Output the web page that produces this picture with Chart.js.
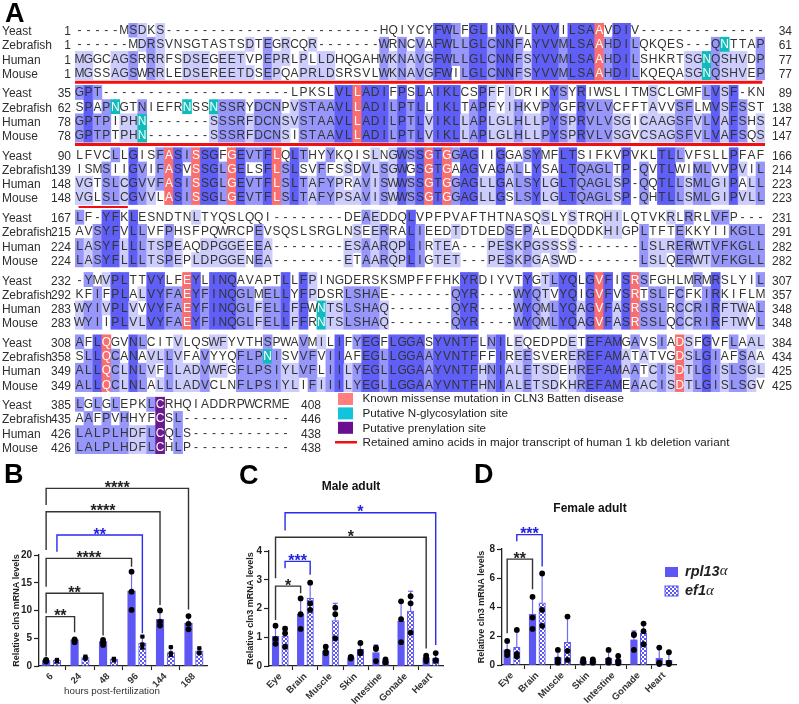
<!DOCTYPE html>
<html>
<head>
<meta charset="utf-8">
<script src="https://cdn.jsdelivr.net/npm/chart.js@4"></script>
<style>
  html, body { margin: 0; padding: 0; background: #fff; }
  body { width: 799px; height: 704px; position: relative; overflow: hidden; font-family: "Liberation Sans", Arial, sans-serif; }
  canvas { position: absolute; }
  .panel { position: absolute; font-weight: bold; font-size: 27px; line-height: 27px; color: #000; }
</style>
</head>
<body>
<canvas id="align" width="799" height="470" style="left:0px;top:0px"></canvas>
<canvas id="chartB" width="220" height="234" style="left:0px;top:470px"></canvas>
<canvas id="chartC" width="235" height="234" style="left:215px;top:470px"></canvas>
<canvas id="chartD" width="349" height="234" style="left:450px;top:470px"></canvas>
<div class="panel" style="left:5px;top:0px">A</div>
<div class="panel" style="left:4px;top:461px">B</div>
<div class="panel" style="left:239px;top:462px">C</div>
<div class="panel" style="left:474px;top:461px">D</div>
<script>
// panel A: the alignment, one string per species per block
const species = ['Yeast', 'Zebrafish', 'Human', 'Mouse'];
const seqBlock1 = [
  '-----MSDKS------------------------HQIYCYFWLFGLINNVLYVVILSAAVDIV--------------',
  '------MDRSVNSGTASTSDTEGRCQR-------WRNCVAFWLLGLCNNFAYVVMLSAAHDILQKQES---QNTTAP',
  'MGGCAGSRRRFSDSEGEETVPEPRLPLLDHQGAHWKNAVGFWLLGLCNNFSYVVMLSAAHDILSHKRTSGNQSHVDP',
  'MGSSAGSWRRLEDSEREETDSEPQAPRLDSRSVLWKNAVGFWILGLCNNFSYVVMLSAAHDILKQEQASGNQSHVEP'
];
const seqBlock2 = [
  'GPT---------------------LPKSLVLLADIFPSLAIKLCSPFFIDRIKYSYRIWSLITMSCLGMFLVSF-KN',
  'SPAPNGTNIEFRNSSNSSRYDCNPVSTAAVLLADILPTLLIKLTAPFYIHKVPYGFRVLVCFFTAVVSFLMVSFSST',
  'GPTPIPHN-------SSSRFDCNSVSTAAVLLADILPTLVIKLLAPLGLHLLPYSPRVLVSGICAAGSFVLVAFSHS',
  'GPTPTPHN-------SSSRFDCNSISTAAVLLADILPTLVIKLLAPLGLHLLPYSPRVLVSGVCSAGSFVLVAFSQS'
];
const seqBlock3 = [
  'LFVCLLGISFASISSGFGEVTFLQLTHYYKQISLNGWSSGTGGAGIIGGASYMFLTSIFKVPVKLTLLVFSLLPFAF',
  'ISMSIIGVIFASVSSGLGELSFLSLSVFFSSDVLSGWGSGTGAAGVAGALLYSALTQAGLTP-QVTLWIMLVVPVIL',
  'VGTSLCGVVFASISSGLGEVTFLSLTAFYPRAVISWWSSGTGGAGLLGALSYLGLTQAGLSP-QQTLLSMLGIPALL',
  'VGLSLCGVVLASISSGLGEVTFLSLTAFYPSAVISWWSSGTGGAGLLGSLSYLGLTQAGLSP-QHTLLSMLGIPVLL'
];
const seqBlock4 = [
  'LF-YFKLESNDTNLTYQSLQQI--------DEAEDDQLVPFPVAFTHTNASQSLYSTRQHILQTVKRLRRLVFP---',
  'AVSYFVLLVFPHSFPQWRCPEVSQSLSRGLNSEERRALIEEDTDTDEDSEPALEDQDDKHIGPLTFTEKKYIIKGLL',
  'LASYFLLLTSPEAQDPGGEEEA--------ESAARQPLIRTEA---PESKPGSSSS-------LSLRERWTVFKGLL',
  'LASYFLLLTSPEPLDPGGENEA--------ETAARQPLIGTET---PESKPGASWD-------LSLQERWTVFKGLL'
];
const seqBlock5 = [
  '-YMVPLTTVYLFEYLINQAVAPTLLFPINGDERSKSMPFFFHKYRDIYVTYGTLYQLGVFISRSFGHLMRMRSLYIL',
  'KFIFPLALVYFAEYFINQGLMELLYFPDSRLSHAE-------QYR----WYQTVYQIGVFVSRTSLFCFKIRKIFLM',
  'WYIVPLVVVYFAEYFINQGLFELLFFWNTSLSHAQ-------QYR----WYQMLYQAGVFASRSSLRCCRIRFTWAL',
  'WYIIPLVLVYFAEYFINQGLFELLFFRNTSLSHAQ-------QYR----WYQMLYQAGVFASRSSLQCCRIRFTWVL'
];
const seqBlock6 = [
  'AFLQGVNLCITVLQSWFYVTHSPWAVMILIFYEGFLGGASYVNTFLNILEQEDPDETEFAMGAVSIADSFGVFLAAL',
  'SLLQCANAVLLVFAVYYQFLPNISVVFVIIAFEGLLGGAAYVNTFFFIREESVEREREFAMATATVGDSLGIAFSAA',
  'ALLQCLNLVFLLADVWFGFLPSIYLVFLIILYEGLLGGAAYVNTFHNIALETSDEHREFAMAATCISDTLGISLSGL',
  'ALLQCLNLALLLADVCLNFLPSIYLIFIIILYEGLLGGAAYVNTFHNIALETSDKHREFAMEAACISDTLGISLSGV'
];
const seqBlock7 = [
  'LGLGLEPKLCRHQIADDRPWCRME',
  'AAFPVHHYFCSL------------',
  'LALPLHDFLCQLS-----------',
  'LALPLHDFLCHLP-----------'
];
const seqBlocks = [seqBlock1, seqBlock2, seqBlock3, seqBlock4, seqBlock5, seqBlock6, seqBlock7];
const startNums = [[1, 1, 1, 1], [35, 62, 78, 78], [90, 139, 148, 148], [167, 215, 224, 224], [232, 292, 283, 283], [308, 358, 349, 349], [385, 435, 426, 426]];
const endNums = [[34, 61, 77, 77], [89, 138, 147, 147], [166, 214, 223, 223], [231, 291, 282, 282], [307, 357, 348, 348], [384, 434, 425, 425], [408, 446, 438, 438]];
// zero based columns of the marked residues in each block
const missenseCols = [[58], [31], [10, 13, 17, 22, 39, 41], [], [12, 58, 62], [3, 67], []];
const prenylCols = [[], [], [], [], [], [], [9]];
// block, row, column
const glycoCells = [[0, 1, 72], [0, 2, 70], [0, 3, 70], [1, 1, 4], [1, 1, 12], [1, 1, 15], [1, 2, 7], [1, 3, 7], [4, 2, 27], [4, 3, 27], [5, 1, 21]];
// block, from column, to column
const retainedSpans = [[0, 0, 76.7], [1, 0, 77], [2, 0.4, 5.9]];
const legendTexts = ['Known missense mutation in CLN3 Batten disease', 'Putative N-glycosylation site', 'Putative prenylation site', 'Retained amino acids in major transcript of human 1 kb deletion variant'];

// panel B values
const hpfLabels = ['6', '24', '48', '96', '144', '168'];
const bRpl = [1, 4.7, 4.4, 13.5, 8.4, 7.7];
const bEf = [1, 1.5, 1.2, 4.1, 2.4, 2.7];
const bRplTop = [1.1, 4.9, 4.8, 17, 10, 9.2];
const bEfTop = [1.1, 1.7, 1.3, 5.3, 3.4, 3.2];
const bRplPts = [[0.8, 1, 1.1], [4.3, 4.6, 4.8], [3.8, 4.3, 4.7], [10.1, 13.4, 17], [7.3, 8, 10], [6.6, 7.6, 9]];
const bEfPts = [[0.8, 1, 1.1], [1.3, 1.5, 1.7], [1, 1.2, 1.3], [3.3, 3.9, 5.3], [2, 2.3, 3.4], [2.3, 2.4, 3.2]];
// from x, to x, level, left end, right end, stars, colour key
const bBrackets = [
  [-0.19, 0.81, 8.9, 1.7, 6.1, '**', 'k'],
  [-0.19, 1.81, 13.1, 9.5, 5.5, '**', 'k'],
  [-0.19, 2.81, 19.4, 14.3, 17.9, '****', 'k'],
  [0.19, 3.19, 23.6, 20.6, 5.9, '**', 'b'],
  [-0.19, 3.81, 27.8, 20.9, 11, '****', 'k'],
  [-0.19, 4.81, 32, 29, 10.2, '****', 'k']
];

// panel C values
const tissueLabels = ['Eye', 'Brain', 'Muscle', 'Skin', 'Intestine', 'Gonade', 'Heart'];
const cRpl = [1.03, 1.8, 0.52, 0.29, 0.46, 1.56, 0.28];
const cEf = [1.04, 2.35, 1.58, 0.58, 0.17, 1.91, 0.27];
const cRplTop = [1.4, 2.35, 0.67, 0.35, 0.73, 2.25, 0.38];
const cEfTop = [1.37, 2.9, 2.18, 0.8, 0.25, 2.6, 0.45];
const cRplPts = [[1.4, 0.94, 0.77], [2.35, 1.8, 1.29], [0.67, 0.5, 0.44], [0.32, 0.29, 0.26], [0.64, 0.59, 0.17], [2.25, 1.63, 0.83], [0.36, 0.27, 0.17]];
const cEfPts = [[1.3, 1.14, 0.67], [2.9, 2.18, 1.95], [2.03, 1.8, 0.96], [0.8, 0.5, 0.44], [0.23, 0.18, 0.12], [2.43, 2.18, 1.16], [0.45, 0.2, 0.18]];
const cBrackets = [
  [-0.19, 0.81, 2.78, 1.6, 2.53, '*', 'k'],
  [0.19, 1.19, 3.64, 3.4, 3.17, '***', 'b'],
  [-0.19, 5.81, 4.48, 3.05, 0.61, '*', 'k'],
  [0.19, 6.19, 5.33, 4.71, 0.73, '*', 'b']
];

// panel D values
const dRpl = [1.04, 3.5, 0.53, 0.28, 0.46, 1.73, 0.46];
const dEf = [1.22, 4.29, 1.57, 0.27, 0.35, 2.21, 0.33];
const dRplTop = [1.66, 4.7, 1.04, 0.41, 1.04, 2.35, 1.2];
const dEfTop = [2.42, 6.31, 3.34, 0.39, 0.62, 2.86, 0.88];
const dRplPts = [[1.66, 0.92, 0.69], [4.7, 3.27, 2.49], [1.04, 0.39, 0.16], [0.41, 0.28, 0.16], [1.04, 0.35, 0.16], [2.12, 2.07, 1.04], [1.2, 0.16, 0.07]];
const dEfPts = [[2.42, 0.76, 0.58], [6.31, 3.8, 2.7], [3.34, 0.97, 0.35], [0.39, 0.25, 0.16], [0.62, 0.28, 0.12], [2.86, 2.33, 1.43], [0.88, 0.16, 0.07]];
const dBrackets = [
  [-0.19, 0.81, 7.3, 2.19, 5.23, '**', 'k'],
  [0.19, 1.19, 8.99, 8.53, 6.8, '***', 'b']
];

const FONT = '"Liberation Sans", Arial, sans-serif';
const BLUE = '#5d58f4';
const ERR_BLUE = '#6f6bf6';
const BRACKET = { k: '#333333', b: '#2a2af0' };
const STAR = { k: '#222222', b: '#2222e0' };

function cellColor(block, row, col) {
  const rows = seqBlocks[block];
  const ch = rows[row][col];
  if (ch === '-' || ch === undefined) return null;
  if (missenseCols[block].includes(col)) return '#fb6e6e';
  if (prenylCols[block].includes(col)) return '#6a1a8c';
  if (glycoCells.some(c => c[0] === block && c[1] === row && c[2] === col)) return '#0fbcbc';
  // percentage identity shading, the same for all four rows of a column
  const counts = {};
  rows.forEach(r => { if (r[col] !== '-' && r[col] !== undefined) counts[r[col]] = (counts[r[col]] || 0) + 1; });
  const top = Math.max(...Object.values(counts));
  if (counts[ch] !== top) return null;
  if (top === 4) return '#5f5ff8';
  if (top === 3) return '#9797fb';
  if (top === 2) return '#cdcdfd';
  return null;
}

const columnCount = 77;
const blockStep = 4.39;
const alignRows = 6 * blockStep + 4;
const columnLabels = Array.from({ length: columnCount }, (_, i) => String(i + 1));

const alignDatasets = [];
seqBlocks.forEach((rows, b) => {
  rows.forEach((seq, r) => {
    const top = b * blockStep + r;
    alignDatasets.push({
      label: species[r] + ' ' + startNums[b][r],
      data: columnLabels.map((_, c) => cellColor(b, r, c) ? [top, top + 1] : null),
      backgroundColor: columnLabels.map((_, c) => cellColor(b, r, c) || 'transparent'),
      barPercentage: 1,
      categoryPercentage: 1,
      grouped: false
    });
  });
});

const alignLetters = {
  id: 'alignLetters',
  afterDatasetsDraw(chart) {
    const ctx = chart.ctx, x = chart.scales.x, y = chart.scales.y;
    ctx.save();
    ctx.textBaseline = 'middle';
    seqBlocks.forEach((rows, b) => {
      rows.forEach((seq, r) => {
        const py = y.getPixelForValue(b * blockStep + r + 0.5) + 0.7;
        ctx.font = '12px ' + FONT;
        ctx.fillStyle = '#2e2e2e';
        ctx.textAlign = 'left';
        ctx.fillText(species[r], 2, py + 1);
        ctx.textAlign = 'right';
        ctx.fillText(startNums[b][r], 71, py + 1);
        const endX = b === 6 ? 321 : 792;
        ctx.fillText(endNums[b][r], endX, py + 1);
        ctx.textAlign = 'center';
        for (let c = 0; c < seq.length; c++) {
          const col = cellColor(b, r, c);
          const marked = col && col[1] !== '5' && col[1] !== '9' && col[1] !== 'c';
          ctx.fillStyle = marked ? '#fff' : '#333';
          ctx.fillText(seq[c], x.getPixelForValue(c), py);
        }
      });
    });
    // red lines for the retained amino acids
    ctx.strokeStyle = '#f01010';
    const colW = x.getPixelForValue(1) - x.getPixelForValue(0);
    retainedSpans.forEach((s, i) => {
      const py = y.getPixelForValue(s[0] * blockStep + 4) + 2.4;
      ctx.lineWidth = i === 2 ? 2 : 3;
      ctx.beginPath();
      ctx.moveTo(x.left + s[1] * colW, py);
      ctx.lineTo(x.left + s[2] * colW, py);
      ctx.stroke();
    });
    // legend
    const swatch = ['#ff7f7f', '#12c3dc', '#6a0f90'];
    swatch.forEach((c, i) => {
      ctx.fillStyle = c;
      ctx.fillRect(338, 393 + i * 14.4, 15, 12);
    });
    ctx.fillStyle = '#f01010';
    ctx.fillRect(335, 441, 22, 2.5);
    ctx.fillStyle = '#222';
    ctx.textAlign = 'left';
    ctx.font = '11.65px ' + FONT;
    [399, 414, 429, 443].forEach((py, i) => ctx.fillText(legendTexts[i], 362.5, py));
    ctx.restore();
  }
};

new Chart(document.getElementById('align'), {
  type: 'bar',
  data: { labels: columnLabels, datasets: alignDatasets },
  options: {
    responsive: false,
    animation: false,
    layout: { padding: { left: 75, right: 34, top: 23, bottom: 16 } },
    plugins: { legend: { display: false }, tooltip: { enabled: false } },
    scales: {
      x: { display: false },
      y: { display: false, reverse: true, min: 0, max: alignRows }
    }
  },
  plugins: [alignLetters]
});

// checker fill for the ef1a bars
function checkerFill() {
  const tile = document.createElement('canvas');
  tile.width = 4;
  tile.height = 4;
  const t = tile.getContext('2d');
  t.fillStyle = BLUE;
  t.fillRect(0, 0, 4, 4);
  t.fillStyle = '#fff';
  t.fillRect(0, 0, 2, 2);
  t.fillRect(2, 2, 2, 2);
  return t.createPattern(tile, 'repeat');
}

function errorLine(values, tops, off) {
  const out = [];
  values.forEach((v, g) => {
    out.push({ x: g + off, y: v }, { x: g + off, y: tops[g], cap: true }, { x: g + off, y: null });
  });
  return out;
}

function pointCloud(pts, off) {
  const out = [];
  pts.forEach((p, g) => p.forEach(v => out.push({ x: g + off, y: v })));
  return out;
}

function makePanel(cfg) {
  const off = 0.19;
  const extras = {
    id: 'extras' + cfg.id,
    afterDatasetsDraw(chart) {
      const ctx = chart.ctx, x = chart.scales.x, y = chart.scales.y;
      ctx.save();
      cfg.brackets.forEach(b => {
        const x0 = x.getPixelForValue(b[0]), x1 = x.getPixelForValue(b[1]);
        const lv = y.getPixelForValue(b[2]);
        ctx.strokeStyle = BRACKET[b[6]];
        ctx.lineWidth = 1.4;
        ctx.beginPath();
        ctx.moveTo(x0, y.getPixelForValue(b[3]));
        ctx.lineTo(x0, lv);
        ctx.lineTo(x1, lv);
        ctx.lineTo(x1, y.getPixelForValue(b[4]));
        ctx.stroke();
        ctx.fillStyle = STAR[b[6]];
        ctx.font = 'bold 16px ' + FONT;
        ctx.textAlign = 'center';
        ctx.textBaseline = 'alphabetic';
        ctx.fillText(b[5], (x0 + x1) / 2, lv + 4.5);
      });
      if (cfg.heading) {
        ctx.fillStyle = '#111';
        ctx.font = 'bold 12px ' + FONT;
        ctx.textAlign = 'center';
        ctx.textBaseline = 'middle';
        ctx.fillText(cfg.heading, cfg.headingX, cfg.headingY);
      }
      if (cfg.xText) {
        ctx.fillStyle = '#333';
        ctx.font = '9.8px ' + FONT;
        ctx.textAlign = 'center';
        ctx.textBaseline = 'middle';
        ctx.fillText(cfg.xText, cfg.xTextX, cfg.xTextY);
      }
      if (cfg.legend) {
        ctx.fillStyle = BLUE;
        ctx.fillRect(215, 97, 13, 10);
        ctx.fillStyle = checkerFill();
        ctx.fillRect(215, 116, 13, 10);
        ctx.strokeStyle = BLUE;
        ctx.lineWidth = 1;
        ctx.strokeRect(215, 116, 13, 10);
        ctx.textAlign = 'left';
        ctx.textBaseline = 'middle';
        [['rpl13', 101.5], ['ef1', 121]].forEach(e => {
          ctx.fillStyle = '#222';
          ctx.font = 'italic bold 14.5px ' + FONT;
          ctx.fillText(e[0], 235, e[1]);
          const w = ctx.measureText(e[0]).width;
          ctx.font = 'italic 15px "Liberation Serif", serif';
          ctx.fillText('\u03b1', 235 + w, e[1]);
        });
      }
      ctx.restore();
    }
  };
  new Chart(document.getElementById(cfg.id), {
    type: 'bar',
    data: {
      datasets: [
        { type: 'scatter', label: 'rpl13a points', data: pointCloud(cfg.rplPts, -off), pointRadius: cfg.ptR, pointBackgroundColor: '#000', pointBorderWidth: 0, clip: false, order: 0 },
        { type: 'scatter', label: 'ef1a points', data: pointCloud(cfg.efPts, off), pointStyle: cfg.efStyle, pointRadius: cfg.ptR, pointBackgroundColor: '#000', pointBorderWidth: 0, clip: false, order: 0 },
        { type: 'scatter', label: 'rpl13a error', data: errorLine(cfg.rpl, cfg.rplTop, -off), showLine: true, borderColor: ERR_BLUE, borderWidth: 1.2, pointStyle: 'line', pointBorderColor: ERR_BLUE, pointRadius: c => (c.raw && c.raw.cap ? 2.5 : 0), clip: false, order: 1 },
        { type: 'scatter', label: 'ef1a error', data: errorLine(cfg.ef, cfg.efTop, off), showLine: true, borderColor: ERR_BLUE, borderWidth: 1.2, pointStyle: 'line', pointBorderColor: ERR_BLUE, pointRadius: c => (c.raw && c.raw.cap ? 2.5 : 0), clip: false, order: 1 },
        { label: 'rpl13a', data: cfg.rpl.map((v, g) => ({ x: g - off, y: v })), backgroundColor: BLUE, barThickness: cfg.barW, grouped: false, order: 2 },
        { label: 'ef1a', data: cfg.ef.map((v, g) => ({ x: g + off, y: v })), backgroundColor: checkerFill(), borderColor: BLUE, borderWidth: 1, barThickness: cfg.barW, grouped: false, order: 2 }
      ]
    },
    options: {
      responsive: false,
      animation: false,
      layout: { padding: { left: 0, top: cfg.top, right: cfg.right, bottom: 0 } },
      plugins: { legend: { display: false }, tooltip: { enabled: false } },
      scales: {
        x: {
          type: 'linear',
          offset: false,
          min: cfg.xMin,
          max: cfg.xMax,
          afterBuildTicks: s => { s.ticks = cfg.labels.map((_, i) => ({ value: i })); },
          afterFit: s => { s.height = cfg.xH; },
          grid: { display: true, drawOnChartArea: false, tickLength: 4, tickColor: '#222', tickWidth: 1.1 },
          border: { color: '#222', width: 1.3 },
          ticks: {
            autoSkip: false,
            maxRotation: 45,
            minRotation: 45,
            padding: 1,
            color: '#333',
            font: { family: FONT, size: 9.5, weight: 'bold' },
            callback: v => cfg.labels[v]
          }
        },
        y: {
          min: 0,
          max: cfg.yMax,
          afterBuildTicks: s => { s.ticks = cfg.yTicks.map(v => ({ value: v })); },
          afterFit: s => { s.width = cfg.yW; },
          grid: { display: true, drawOnChartArea: false, tickLength: 5, tickColor: '#222', tickWidth: 1.2 },
          border: { color: '#222', width: 1.3 },
          ticks: { padding: 2, color: '#222', font: { family: FONT, size: 10, weight: 'bold' } },
          title: {
            display: true,
            text: 'Relative cln3 mRNA levels',
            color: '#222',
            font: { family: FONT, size: 9, weight: 'bold' },
            padding: { top: cfg.titlePad, bottom: 0 }
          }
        }
      }
    },
    plugins: [extras]
  });
}

makePanel({
  id: 'chartB', labels: hpfLabels, rpl: bRpl, ef: bEf, rplTop: bRplTop, efTop: bEfTop, rplPts: bRplPts, efPts: bEfPts,
  brackets: bBrackets, yMax: 20, yTicks: [0, 5, 10, 15, 20], xMin: -0.44, xMax: 5.46, barW: 7.5, ptR: 2.9, efStyle: 'rect',
  top: 85, right: 13, xH: 38, yW: 39, titlePad: 11, xText: 'hours post-fertilization', xTextX: 112, xTextY: 221
});
makePanel({
  id: 'chartC', labels: tissueLabels, rpl: cRpl, ef: cEf, rplTop: cRplTop, efTop: cEfTop, rplPts: cRplPts, efPts: cEfPts,
  brackets: cBrackets, yMax: 4, yTicks: [0, 1, 2, 3, 4], xMin: -0.45, xMax: 6.48, barW: 6.5, ptR: 2.9, efStyle: 'circle',
  top: 81, right: 7, xH: 38, yW: 54, titlePad: 30, heading: 'Male adult', headingX: 136, headingY: 17
});
makePanel({
  id: 'chartD', labels: tissueLabels, rpl: dRpl, ef: dEf, rplTop: dRplTop, efTop: dEfTop, rplPts: dRplPts, efPts: dEfPts,
  brackets: dBrackets, yMax: 8, yTicks: [0, 2, 4, 6, 8], xMin: -0.394, xMax: 6.47, barW: 6.5, ptR: 2.9, efStyle: 'circle',
  top: 79, right: 123, xH: 39, yW: 52, titlePad: 26, heading: 'Female adult', headingX: 140, headingY: 39, legend: true
});
</script>
</body>
</html>
